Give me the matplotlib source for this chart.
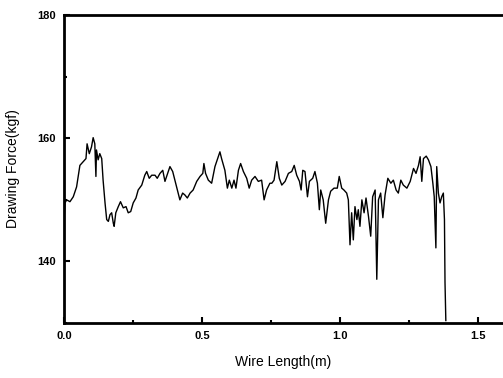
import numpy as np
import matplotlib
matplotlib.use("Agg")
import matplotlib.pyplot as plt
from matplotlib.ticker import MultipleLocator

plt.rcParams['font.family'] = ['Liberation Sans', 'DejaVu Sans']

# wire length (m) and drawing force (kgf)
length = [0.000, 0.004, 0.010, 0.022, 0.034, 0.046, 0.058, 0.070, 0.080, 0.084,
          0.092, 0.100, 0.106, 0.112, 0.116, 0.118, 0.124, 0.130, 0.137, 0.142,
          0.149, 0.155, 0.161, 0.167, 0.173, 0.179, 0.182, 0.188, 0.197, 0.205,
          0.215, 0.225, 0.233, 0.242, 0.251, 0.261, 0.269, 0.282, 0.293, 0.300,
          0.309, 0.318, 0.330, 0.338, 0.348, 0.358, 0.366, 0.378, 0.384, 0.394,
          0.402, 0.412, 0.420, 0.430, 0.438, 0.447, 0.457, 0.468, 0.481, 0.493,
          0.503, 0.507, 0.513, 0.523, 0.535, 0.547, 0.559, 0.565, 0.571, 0.583,
          0.592, 0.599, 0.608, 0.616, 0.623, 0.632, 0.640, 0.650, 0.662, 0.671,
          0.680, 0.692, 0.704, 0.716, 0.725, 0.734, 0.746, 0.753, 0.761, 0.771,
          0.780, 0.789, 0.801, 0.813, 0.825, 0.834, 0.843, 0.853, 0.859, 0.865,
          0.873, 0.882, 0.889, 0.901, 0.909, 0.918, 0.925, 0.930, 0.939, 0.948,
          0.958, 0.966, 0.978, 0.990, 0.997, 1.006, 1.014, 1.024, 1.030, 1.036,
          1.042, 1.048, 1.054, 1.061, 1.066, 1.072, 1.079, 1.087, 1.094, 1.103,
          1.111, 1.118, 1.127, 1.133, 1.139, 1.147, 1.155, 1.163, 1.173, 1.184,
          1.193, 1.203, 1.211, 1.220, 1.229, 1.242, 1.254, 1.266, 1.275, 1.284,
          1.290, 1.296, 1.302, 1.312, 1.320, 1.329, 1.336, 1.341, 1.347, 1.350,
          1.356, 1.362, 1.368, 1.374, 1.378, 1.380, 1.383]
force = [146.2, 149.5, 150.0, 149.7, 150.5, 152.1, 155.6, 156.2, 156.7, 159.1,
         157.5, 158.6, 160.1, 159.1, 153.8, 158.1, 156.5, 157.5, 156.7, 153.2,
         149.5, 146.8, 146.5, 147.6, 147.9, 146.2, 145.7, 147.9, 148.9, 149.7,
         148.7, 148.9, 147.9, 148.1, 149.5, 150.3, 151.6, 152.4, 154.0, 154.6,
         153.5, 154.0, 154.0, 153.5, 154.3, 154.8, 153.0, 154.6, 155.4, 154.6,
         153.2, 151.4, 150.0, 151.1, 150.8, 150.3, 151.1, 151.6, 153.0, 153.8,
         154.3, 155.9, 154.3, 153.2, 152.7, 155.4, 157.0, 157.8, 156.7, 154.8,
         151.9, 153.2, 151.9, 153.2, 151.9, 154.8, 155.9, 154.6, 153.5, 151.9,
         153.2, 153.8, 153.0, 153.2, 150.0, 151.6, 152.7, 152.7, 153.2, 156.2,
         153.5, 152.4, 153.0, 154.3, 154.6, 155.6, 154.0, 153.0, 151.6, 154.8,
         154.6, 150.5, 153.0, 153.5, 154.6, 152.7, 148.4, 151.6, 150.0, 146.2,
         150.0, 151.4, 151.9, 151.9, 153.8, 151.9, 151.6, 151.1, 150.0, 142.7,
         147.9, 143.5, 148.9, 146.8, 148.4, 145.7, 150.0, 147.9, 150.3, 147.3,
         144.1, 150.5, 151.6, 137.1, 150.0, 151.1, 147.1, 150.8, 153.5, 152.7,
         153.2, 151.6, 151.1, 153.2, 152.4, 151.9, 153.0, 155.1, 154.3, 155.6,
         157.0, 153.0, 156.7, 157.1, 156.5, 155.4, 152.7, 150.5, 142.2, 155.4,
         151.1, 149.5, 150.5, 151.1, 146.8, 136.6, 130.4]

fig = plt.figure(figsize=(5.03, 3.78), dpi=100)
ax = fig.add_axes([0.127, 0.1455, 0.873, 0.8145])

ax.plot(length, force, color='black', linewidth=1.0)

ax.set_xlim(0, 1.59)
ax.set_ylim(130, 180)
ax.spines['right'].set_visible(False)
for s in ['left', 'bottom', 'top']:
    ax.spines[s].set_linewidth(2.0)

ax.xaxis.set_major_locator(MultipleLocator(0.5))
ax.xaxis.set_minor_locator(MultipleLocator(0.25))
ax.yaxis.set_major_locator(MultipleLocator(20))
ax.yaxis.set_minor_locator(MultipleLocator(10))
ax.set_yticks([140, 160, 180])
ax.tick_params(which='major', direction='in', length=4, width=1.5, labelsize=8, pad=6)
ax.tick_params(which='minor', direction='in', length=2, width=1.5)
ax.tick_params(top=False, right=False)
for lab in ax.get_xticklabels() + ax.get_yticklabels():
    lab.set_fontweight('bold')

ax.set_xlabel('Wire Length(m)', fontsize=10, labelpad=10)
ax.set_ylabel('Drawing Force(kgf)', fontsize=10, labelpad=12)

fig.savefig('out.png', dpi=100)
